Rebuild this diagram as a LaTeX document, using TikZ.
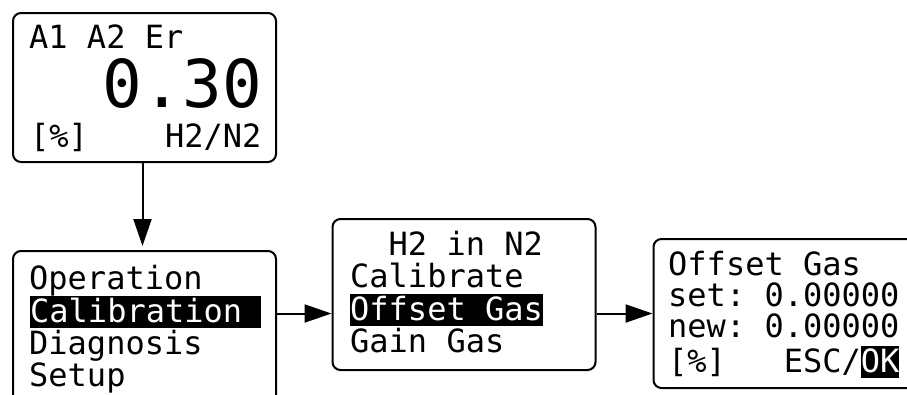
\documentclass[tikz,border=0pt]{standalone}
\usepackage{fontspec}
\setmonofont{DejaVu Sans Mono}
\usetikzlibrary{arrows.meta}
% inverse-video highlight of a display line
\newcommand\lcdhl[1]{{\setlength\fboxsep{0pt}\colorbox{black}{\rule[-6pt]{0pt}{32pt}\color{white}#1}}}

\begin{document}
\begin{tikzpicture}[x=1pt,y=-1pt,
  screen/.style={draw, line width=2pt, rounded corners=8pt, inner sep=0pt,
                 minimum width=263pt},
  lcd/.style={anchor=base west, inner sep=0pt,
              font=\ttfamily\fontsize{32}{32}\selectfont},
  lcdbig/.style={anchor=base east, inner sep=0pt,
                 font=\ttfamily\fontsize{66}{66}\selectfont},
  flow/.style={line width=2pt, -{Triangle[length=27pt,width=18pt]}}]

\useasboundingbox (0,0) rectangle (907,394);
\clip (0,0) rectangle (907,394);

% display screens
\node[screen, minimum height=149pt] (s1) at (144.5,87.5) {};
\node[screen, minimum height=160pt] (s2) at (144.5,331) {};
\node[screen, minimum height=151pt] (s3) at (464,294.5) {};
\node[screen, minimum height=149pt] (s4) at (785,313.5) {};

% measuring screen
\node[lcd] (s1a) at (29,48) {A1~A2~Er};
\node[lcdbig] (s1b) at (262,107) {0.30};
\node[lcd] (s1c) at (30,147) {[\%]~~~~H2/N2};

% main menu
\node[lcd] (s2a) at (29,289) {Operation};
\node[lcd] (s2b) at (30,322) {\lcdhl{Calibration~}};
\node[lcd] (s2c) at (29,354) {Diagnosis};
\node[lcd] (s2d) at (29,386) {Setup};

% calibration menu
\node[lcd] (s3a) at (350,255) {~~H2~in~N2};
\node[lcd] (s3b) at (350,287) {Calibrate};
\node[lcd] (s3c) at (350,320) {\lcdhl{Offset~Gas}};
\node[lcd] (s3d) at (350,352) {Gain~Gas};

% offset gas entry
\node[lcd] (s4a) at (668,275) {Offset~Gas};
\node[lcd] (s4b) at (668,306) {set:~0.00000};
\node[lcd] (s4c) at (668,337) {new:~0.00000};
\node[lcd] (s4d) at (668,372) {[\%]~~~ESC/\lcdhl{OK}};

% navigation arrows
\draw[flow, shorten >=4pt] ([xshift=-2pt]s1.south) -- ([xshift=-2pt]s2.north);
\draw[flow] (s2.east |- s4.west) -- (s3.west |- s4.west);
\draw[flow] (s3.east |- s4.west) -- (s4.west);
\end{tikzpicture}
\end{document}
